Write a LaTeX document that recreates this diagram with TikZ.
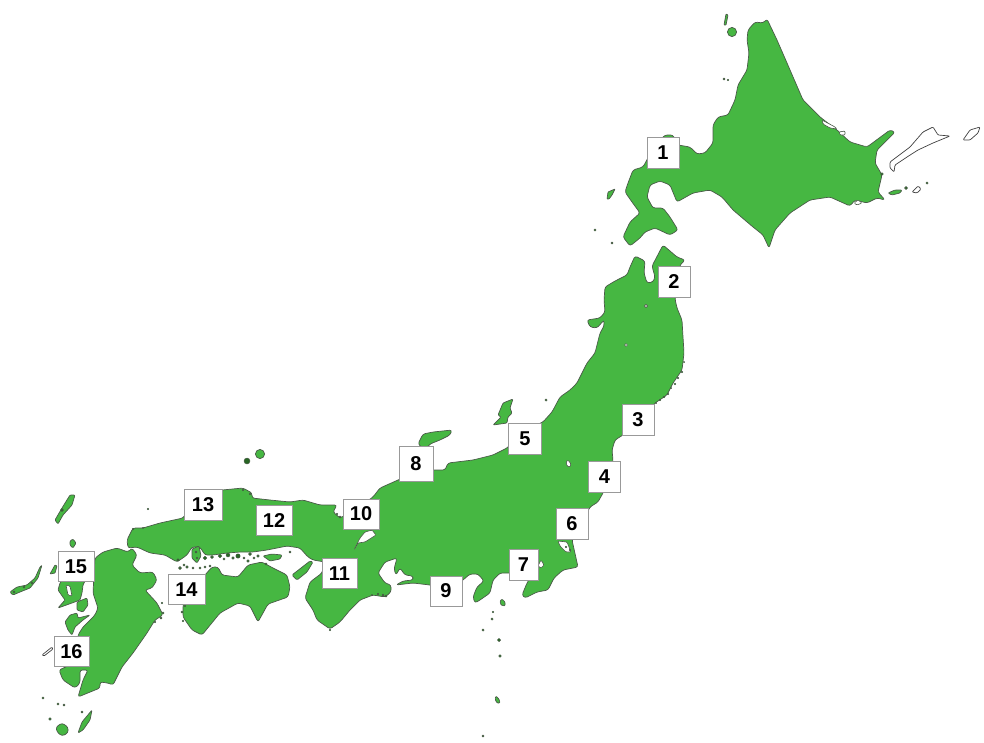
\documentclass[tikz,border=0pt]{standalone}
\usepackage{fontspec}
\setmainfont{Liberation Sans}
\definecolor{landgreen}{HTML}{46B742}
\definecolor{coast}{HTML}{4A5A48}
\tikzset{
  land/.style={fill=landgreen,draw=coast,line width=0.7pt,line join=round,rounded corners=2.4pt},
  hole/.style={fill=white,draw=coast,line width=0.6pt,line join=round,rounded corners=1pt},
  outl/.style={fill=white,draw=black!75,line width=0.7pt,line join=round,rounded corners=1pt},
  islet/.style={fill=landgreen!55!black,draw=coast,line width=0.4pt},
  numbox/.style={draw=black!40,fill=white,line width=0.9pt,inner sep=0pt,minimum width=32pt,minimum height=31pt,font=\fontsize{20}{20}\selectfont\bfseries},
  widebox/.style={numbox,minimum width=36pt,minimum height=30pt}
}
\begin{document}
\begin{tikzpicture}[x=1pt,y=-1pt]
\useasboundingbox (0,0) rectangle (984,742);
% Hokkaido
\draw[land] (767,19)--(763,23)--(755,22)--(748,30)--(747,40)--(749,53)--(747,70)--(738,85)--(735,100)--(728,115)--(718,117)--(713,125)--(713,143)--(705,153)--(697,154)--(690,147)--(678,145)--(673,135)--(665,135)--(655,145)--(643,167)--(633,170)--(628,183)--(625,192)--(632,202)--(640,213)--(630,222)--(623,237)--(630,246)--(640,238)--(645,232)--(655,228)--(670,235)--(678,230)--(670,217)--(663,208)--(653,208)--(647,197)--(650,185)--(660,181)--(670,185)--(677,202)--(693,193)--(710,190)--(722,197)--(733,210)--(753,227)--(763,235)--(769,248)--(775,230)--(790,213)--(810,200)--(830,197)--(850,206)--(855,200)--(867,203)--(877,198)--(885,200)--(878,192)--(882,175)--(875,163)--(877,150)--(895,132)--(890,130)--(867,147)--(850,142)--(837,130)--(820,117)--(803,100)--(787,63)--(777,40)--cycle;
\draw[hole] (822,120)--(835,127)--(837,129)--(830,128)--(823,124)--cycle;
\draw[hole] (839,132)--(845,131)--(845,135)--(840,135)--cycle;
\draw[hole] (854,203)--(858,200)--(862,203)--(857,205)--cycle;
% Kuril outlines
\draw[outl] (890,162)--(910,147)--(923,132)--(933,127)--(938,135)--(950,136)--(933,143)--(918,150)--(907,157)--(895,165)--(894,172)--(890,168)--cycle;
\draw[outl] (963,140)--(970,130)--(980,127)--(978,133)--(970,140)--cycle;
\draw[outl] (912,192)--(918,186)--(921,189)--(917,193)--cycle;
\draw[land,rounded corners=1pt] (888,193)--(895,190)--(902,190)--(900,193)--(892,195)--cycle;
\fill[islet] (906,188) circle (1.5);
\fill[islet] (927,183) circle (1.2);
\fill[islet] (882,174) circle (1.4);
% Islets round Hokkaido
\draw[land,rounded corners=.6pt] (726,14)--(728,15)--(726,25)--(724,25)--cycle;
\draw[land] (732,32) circle (4.6);
\fill[islet] (724,79) circle (1) (728,80) circle (.9);
\draw[land,rounded corners=.6pt] (607,199)--(608,192)--(615,189)--(612,195)--(609,199)--cycle;
\fill[islet] (595,230) circle (1.2) (612,243) circle (1) ;
% Sado, Oki (Noto side)
\draw[land,rounded corners=1pt] (513,399)--(503,403)--(498,415)--(501,417)--(493,425)--(507,423)--(508,417)--(512,413)--(510,408)--cycle;
\draw[land] (418,444)--(423,434)--(433,432)--(452,430)--(450,435)--(440,440)--(430,444)--(425,450)--cycle;
\fill[islet] (546,400) circle (1.2);
% Honshu
\draw[land] (635,256)--(645,261)--(644,273)--(647,283)--(653,282)--(655,277)--(652,266)--(663,245)--(677,257)--(685,260)--(680,265)--(678,280)--(675,299)--(677,308)--(682,320)--(683,337)--(684,353)--(682,370)--(673,383)--(667,395)--(655,403)--(640,420)--(623,435)--(615,440)--(612,450)--(613,460)--(608,480)--(603,493)--(598,502)--(590,507)--(578,530)--(572,540)--(578,567)--(563,570)--(554,578)--(548,590)--(537,592)--(525,598)--(522,595)--(527,583)--(530,578)--(515,573)--(500,573)--(493,580)--(490,593)--(480,600)--(475,603)--(473,597)--(477,587)--(484,581)--(478,574)--(470,574)--(463,580)--(450,590)--(430,585)--(413,583)--(396,585)--(403,581)--(413,580)--(413,576)--(405,575)--(400,568)--(396,575)--(394,569)--(397,558)--(385,562)--(378,573)--(385,583)--(391,585)--(391,592)--(385,597)--(373,595)--(360,600)--(350,610)--(340,622)--(330,629)--(317,620)--(313,610)--(305,598)--(310,582)--(322,573)--(325,562)--(313,560)--(308,557)--(300,548)--(287,546)--(277,548)--(267,550)--(253,552)--(240,552)--(227,553)--(213,555)--(205,555)--(200,547)--(192,547)--(187,555)--(177,562)--(165,555)--(150,553)--(137,547)--(128,548)--(127,540)--(133,528)--(143,528)--(160,523)--(183,518)--(200,495)--(222,490)--(243,488)--(252,493)--(252,498)--(270,500)--(290,502)--(303,500)--(320,505)--(337,505)--(333,512)--(340,518)--(355,510)--(373,497)--(380,488)--(398,480)--(420,470)--(435,470)--(445,470)--(448,463)--(473,460)--(493,455)--(507,448)--(525,430)--(543,422)--(552,412)--(560,397)--(570,390)--(577,383)--(587,363)--(595,353)--(600,333)--(604,326)--(604,320)--(597,328)--(590,327)--(587,320)--(600,318)--(605,312)--(604,300)--(605,287)--(615,281)--(627,275)--(630,267)--cycle;
% Lakes and bay bits
\draw[hole] (372,530)--(376,535)--(365,542)--(358,543)--(354,550)--(360,538)--(365,532)--cycle;
\draw[hole] (568,460)--(571,464)--(570,467)--(567,466)--(566,462)--cycle;
\draw[hole] (646,306) circle (1.6);
\draw[hole] (626,345) circle (1.5);
\draw[hole] (541,560)--(544,565)--(541,568)--(538,566)--cycle;
\draw[hole] (558,541)--(567,542)--(571,552)--(566,552)--(560,546)--cycle;
% Ragged coasts
\foreach \p/\r in {{(684,362)}/.7,{(682,372)}/.8,{(678,378)}/.8,{(675,384)}/.9,{(671,388)}/.7,{(668,394)}/.8,{(664,397)}/.8,{(660,400)}/.8,{(656,403)}/.7,{(383,595)}/1,{(386,596)}/1,{(378,594)}/.8,{(372,595)}/.7,{(163,613)}/1.1,{(161,618)}/1,{(155,622)}/.8,{(566,547)}/.8,{(570,550)}/.8,{(340,517)}/1,{(337,514)}/.8,{(243,490)}/.9,{(250,494)}/.9,{(133,529)}/.8,{(143,528)}/.7,{(330,630)}/.9}{
  \fill[islet] \p circle (\r);
}
% Awaji
\draw[land,rounded corners=1.2pt] (292,575)--(310,561)--(313,562)--(307,572)--(297,580)--cycle;
% Shikoku
\draw[land] (205,575)--(212,567)--(218,567)--(222,575)--(238,577)--(248,565)--(262,562)--(273,568)--(287,575)--(290,587)--(288,597)--(268,604)--(258,622)--(250,606)--(238,603)--(220,613)--(202,635)--(192,630)--(183,617)--(183,605)--(190,590)--cycle;
% Inland sea islands
\draw[land,rounded corners=1pt] (263,556)--(272,554)--(282,555)--(280,559)--(270,561)--cycle;
\draw[land,rounded corners=1pt] (192,549)--(199,546)--(201,556)--(197,563)--(192,558)--cycle;
\foreach \p/\r in {{(205,558)}/1.8,{(212,557)}/1.5,{(220,556)}/1.8,{(224,559)}/1.2,{(228,555)}/2,{(233,558)}/1.4,{(238,556)}/2.2,{(244,558)}/1,{(250,554)}/1.5,{(254,558)}/1.1,{(258,556)}/1.4,{(266,564)}/1.2,{(248,561)}/1.4,{(180,568)}/1.5,{(184,565)}/1.1,{(187,567)}/1.3,{(193,568)}/1,{(200,568)}/1.2,{(205,567)}/1.1,{(210,566)}/1,{(290,552)}/1,{(178,560)}/1.3,{(196,552)}/1,{(197,558)}/.9,{(182,612)}/1,{(183,621)}/.9,{(185,606)}/.9,{(162,603)}/.8}{
  \fill[islet] \p circle (\r);
}
% Izu islands
\draw[land,rounded corners=1pt] (502,599)--(505,602)--(505,606)--(501,605)--(500,601)--cycle;
\fill[islet] (493,612) circle (.9) (492,619) circle (1.2) (483,630) circle (1.2) (499,640) circle (1.7) (500,656) circle (1.3) (483,736) circle (1);
\draw[land,rounded corners=1pt] (496,696)--(499,699)--(500,703)--(497,703)--(495,699)--cycle;
% Oki / San'in islets
\draw[land] (260,454) circle (4.6);
\fill[islet] (247,461) circle (3);
\fill[islet] (148,509) circle (.9);
% Kyushu
\draw[land] (95,558)--(103,552)--(117,548)--(128,552)--(132,548)--(137,555)--(132,565)--(140,573)--(153,572)--(157,580)--(152,588)--(145,590)--(157,603)--(163,615)--(155,620)--(147,633)--(133,653)--(122,667)--(113,685)--(108,683)--(100,682)--(100,688)--(78,697)--(83,680)--(88,670)--(80,670)--(80,683)--(75,688)--(63,680)--(59,670)--(70,665)--(78,645)--(78,635)--(83,627)--(95,615)--(98,608)--(93,593)--(94,575)--cycle;
% Nagasaki, Shimabara, Amakusa
\draw[land,rounded corners=1pt] (70,570)--(90,570)--(85,581)--(83,585)--(82,593)--(80,600)--(72,603)--(58,608)--(65,600)--(58,590)--(60,583)--cycle;
\draw[hole] (66,585)--(70,586)--(72,596)--(68,595)--cycle;
\draw[land,rounded corners=1pt] (77,602)--(87,598)--(88,605)--(83,612)--(77,610)--cycle;
\draw[land,rounded corners=1pt] (65,622)--(70,615)--(77,613)--(78,618)--(90,615)--(83,620)--(75,627)--(72,635)--(68,630)--cycle;
% Tsushima, Iki, Goto, etc.
\draw[land,rounded corners=1pt] (75,495)--(70,495)--(62,508)--(55,520)--(58,524)--(63,515)--(72,505)--cycle;
\fill[islet] (62,510) circle (1.5);
\draw[land,rounded corners=1pt] (73,539)--(76,543)--(73,548)--(70,545)--(70,541)--cycle;
\draw[land,rounded corners=1pt] (10,592)--(17,587)--(27,585)--(35,578)--(40,567)--(42,565)--(38,578)--(30,588)--(20,592)--(13,595)--cycle;
\fill[islet] (14,592) circle (1.1) (24,587) circle (1.1) (32,583) circle (1.1);
\draw[land,rounded corners=.6pt] (50,574)--(55,565)--(57,566)--(55,573)--cycle;
\draw[outl] (42,655)--(52,647)--(53,649)--(44,656)--cycle;
\draw[land] (62,723)--(68,727)--(68,733)--(62,736)--(57,732)--(56,727)--cycle;
\draw[land,rounded corners=1pt] (78,733)--(82,722)--(92,710)--(90,720)--(83,730)--cycle;
\fill[islet] (43,698) circle (1.2) (58,704) circle (1.1) (64,705) circle (1) (50,719) circle (1.4) (82,712) circle (1);
% Numbered boxes
\node[numbox] (n1) at (663,153) {1};
\node[numbox] (n2) at (674,282) {2};
\node[numbox] (n3) at (638,419.5) {3};
\node[numbox] (n4) at (604.5,477) {4};
\node[numbox,minimum width=33pt] (n5) at (525,439) {5};
\node[numbox] (n6) at (572,523.5) {6};
\node[numbox,minimum width=29pt] (n7) at (523.5,564.5) {7};
\node[numbox,minimum width=34pt,minimum height=35pt] (n8) at (416,463.5) {8};
\node[numbox,minimum height=30pt] (n9) at (446,591) {9};
\node[widebox] (n10) at (361,514) {10};
\node[widebox,minimum width=35pt] (n11) at (339.5,573.5) {11};
\node[widebox] (n12) at (274,520.5) {12};
\node[widebox,minimum width=38pt,minimum height=31pt] (n13) at (203,504.5) {13};
\node[widebox,minimum width=37pt] (n14) at (186.5,589.5) {14};
\node[widebox] (n15) at (76,566.5) {15};
\node[widebox,minimum width=35pt] (n16) at (71.5,651.5) {16};
\end{tikzpicture}
\end{document}
